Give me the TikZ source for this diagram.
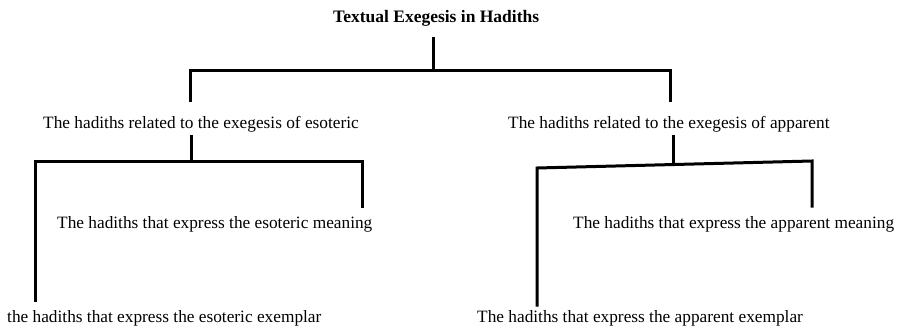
\documentclass[tikz,border=0pt]{standalone}
\usepackage{fontspec}
\setmainfont{Liberation Serif}
\begin{document}
\begin{tikzpicture}[x=1pt,y=-1pt,
  lbl/.style={inner sep=0pt,anchor=base west,font=\fontsize{17.3}{20}\selectfont},
  ttl/.style={inner sep=0pt,anchor=base west,font=\fontsize{17.5}{20}\selectfont\bfseries},
  conn/.style={line width=3pt,line cap=rect,line join=miter}]
\useasboundingbox[fill=white] (0,0) rectangle (901,329);
% texts
\node[ttl] (title) at (333,23) {Textual Exegesis in Hadiths};
\node[lbl] (eso) at (43,128) {The hadiths related to the exegesis of esoteric};
\node[lbl] (app) at (508,128) {The hadiths related to the exegesis of apparent};
\node[lbl] (esomean) at (57,228) {The hadiths that express the esoteric meaning};
\node[lbl] (appmean) at (573,228) {The hadiths that express the apparent meaning};
\node[lbl] (esoex) at (7,322) {the hadiths that express the esoteric exemplar};
\node[lbl] (appex) at (477,322) {The hadiths that express the apparent exemplar};
% joints
\coordinate (t1) at (433,39);
\coordinate (t2) at (433,70);
\coordinate (b1) at (190,70);
\coordinate (b2) at (670,70);
\coordinate (l1) at (190,100);
\coordinate (r1) at (670,100);
\coordinate (e1) at (191,136);
\coordinate (e2) at (191,161);
\coordinate (e3) at (35,161);
\coordinate (e4) at (362,161);
\coordinate (e5) at (35,300);
\coordinate (e6) at (362,206);
\coordinate (a1) at (673,136);
\coordinate (a2) at (673,162);
\coordinate (a3) at (537,168);
\coordinate (a4) at (812,161);
\coordinate (a5) at (537,305);
\coordinate (a6) at (812,206);
% connectors
\draw[conn] (t1) -- (t2);
\draw[conn] (l1) -- (b1) -- (b2) -- (r1);
\draw[conn] (e1) -- (e2);
\draw[conn] (e5) -- (e3) -- (e4) -- (e6);
\draw[conn] (a1) -- (a2);
\draw[conn] (a5) -- (a3) -- (a4) -- (a6);
\end{tikzpicture}
\end{document}
